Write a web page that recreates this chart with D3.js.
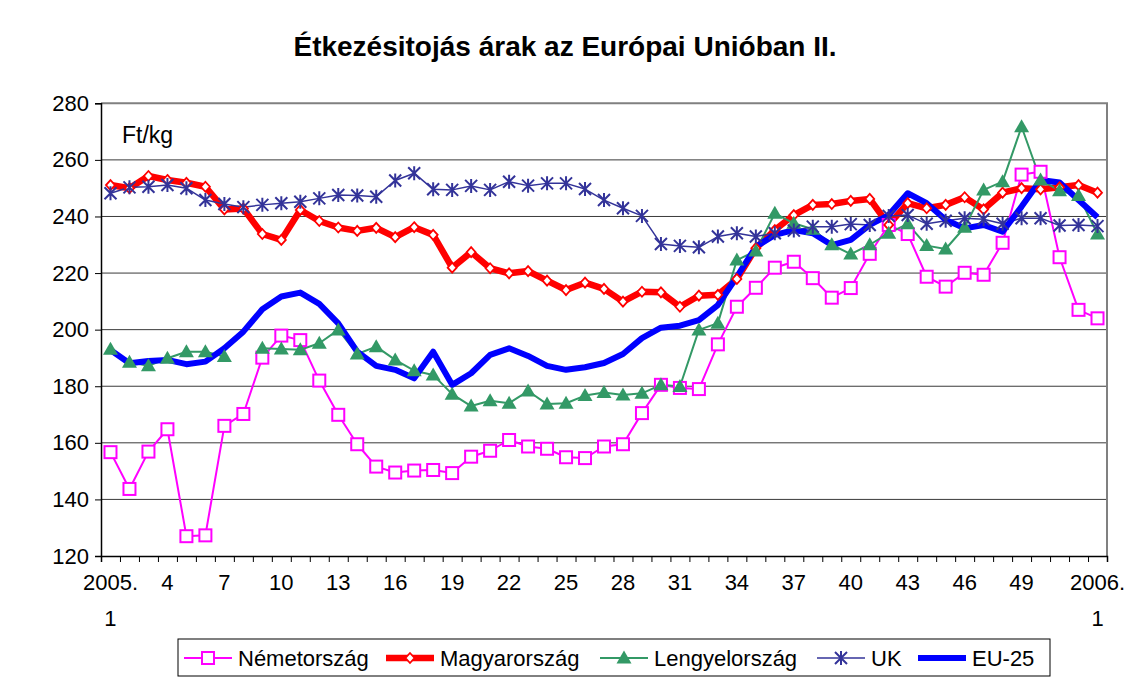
<!DOCTYPE html>
<html>
<head>
<meta charset="utf-8">
<title>Étkezésitojás árak</title>
<script src="https://cdn.jsdelivr.net/npm/d3@7"></script>
<style>
  body { margin: 0; background: #fff; }
  text { font-family: "Liberation Sans", Arial, sans-serif; }
</style>
</head>
<body>
<svg width="1125" height="681"></svg>
<script>
// hetek (kategóriák)
const weeks = ['2005.1','2','3','4','5','6','7','8','9','10','11','12','13','14','15','16','17','18','19','20',
  '21','22','23','24','25','26','27','28','29','30','31','32','33','34','35','36','37','38','39','40',
  '41','42','43','44','45','46','47','48','49','50','51','52','2006.1']
const tickIdx = [0,3,6,9,12,15,18,21,24,27,30,33,36,39,42,45,48,52]
const yTicks = [120,140,160,180,200,220,240,260,280]

const nemet = [156.7,143.7,156.9,164.8,127.0,127.3,166.0,170.2,190.1,197.9,
  196.3,182.0,169.9,159.5,151.6,149.5,150.2,150.4,149.3,155.1,
  157.2,161.0,158.7,157.9,154.9,154.6,158.7,159.5,170.5,180.5,
  179.4,179.0,194.8,208.1,214.8,221.9,224.0,218.2,211.3,214.7,
  226.8,237.0,233.8,218.7,215.2,220.1,219.4,230.7,254.8,255.8,
  225.6,207.0,204.0]
const magyar = [251.1,250.0,254.3,252.9,251.9,250.5,242.5,242.8,233.8,231.7,
  242.3,238.4,236.1,234.9,236.0,232.7,236.2,233.5,221.9,227.4,
  221.7,219.9,220.7,217.3,214.0,216.6,214.4,209.9,213.4,213.2,
  208.1,212.0,212.3,217.9,228.8,235.2,240.5,244.1,244.4,245.5,
  246.2,237.0,244.7,242.9,244.1,246.8,242.5,248.4,250.0,249.6,
  250.3,251.1,248.4]
const lengyel = [193.1,188.5,187.2,189.9,192.2,192.2,190.5,null,193.4,193.2,
  192.9,195.2,199.9,191.4,194.0,189.3,185.5,184.0,177.2,173.0,
  174.9,174.0,178.3,173.7,174.0,176.7,177.8,176.9,177.5,180.5,
  179.9,199.9,202.3,224.6,227.8,241.1,237.6,235.5,230.0,226.7,
  230.0,234.1,237.4,229.7,228.5,236.2,249.4,252.3,271.7,252.9,
  249.1,247.4,233.8]
const uk = [248.2,250.3,250.5,251.1,250.0,245.8,244.4,243.3,244.1,244.7,
  245.2,246.4,247.6,247.4,247.0,252.7,255.3,249.6,249.4,250.8,
  249.4,252.3,250.9,251.7,251.7,249.7,245.8,242.9,240.2,230.3,
  229.6,229.1,232.9,234.1,232.9,234.1,235.0,236.4,236.4,237.3,
  237.0,240.2,240.5,237.4,238.5,239.4,239.0,237.4,239.4,239.4,
  236.8,237.0,236.6]
const eu25 = [192.8,188.1,188.9,189.3,187.8,188.7,193.4,199.3,207.2,211.7,
  213.1,209.1,202.2,192.2,187.2,185.8,182.8,192.2,180.5,184.6,
  191.1,193.4,190.7,187.2,185.8,186.7,188.2,191.4,197.0,200.7,
  201.4,203.4,208.7,218.7,229.3,233.5,235.2,234.1,229.9,231.7,
  237.0,240.5,248.2,244.7,238.8,235.8,237.0,234.6,243.5,252.9,
  252.0,245.8,239.7]

const series = [
  { name: 'Németország', values: nemet, color: '#FF00FF', width: 2, marker: 'square' },
  { name: 'Magyarország', values: magyar, color: '#FF0000', width: 6.5, marker: 'diamond' },
  { name: 'Lengyelország', values: lengyel, color: '#339966', width: 2, marker: 'triangle' },
  { name: 'UK', values: uk, color: '#333399', width: 1.5, marker: 'star' },
  { name: 'EU-25', values: eu25, color: '#0000FF', width: 6, marker: null }
]

const svg = d3.select('svg')
const plot = { left: 101, right: 1107, top: 103.3, bottom: 556 }

const x = d3.scaleLinear([-0.5, weeks.length - 0.5], [plot.left, plot.right])
const y = d3.scaleLinear([120, 280], [plot.bottom, plot.top])

// cím
svg.append('text').attr('x', 565).attr('y', 56).attr('text-anchor', 'middle')
  .style('font-size', '28px').style('font-weight', 'bold').text('Étkezésitojás árak az Európai Unióban II.')

// rácsvonalak
svg.append('g').selectAll('line').data(yTicks.slice(1, -1)).join('line')
  .attr('x1', plot.left).attr('x2', plot.right)
  .attr('y1', d => y(d)).attr('y2', d => y(d))
  .attr('stroke', '#3a3a3a').attr('stroke-width', 1)

// keret felül és jobbra
svg.append('path')
  .attr('d', `M${plot.left},${plot.top}H${plot.right}V${plot.bottom}`)
  .attr('fill', 'none').attr('stroke', '#808080').attr('stroke-width', 2)

// y tengely
const yAxis = svg.append('g').attr('transform', `translate(${plot.left},0)`)
  .call(d3.axisLeft(y).tickValues(yTicks).tickSize(6).tickPadding(6))
yAxis.select('.domain').attr('stroke', '#000').attr('stroke-width', 1.5)
yAxis.selectAll('.tick line').attr('stroke', '#000')
yAxis.selectAll('.tick text').style('font-size', '22px').attr('fill', '#000')
  .style('font-family', '"Liberation Sans", Arial, sans-serif')

// x tengely
const xAxis = svg.append('g').attr('transform', `translate(0,${plot.bottom})`)
  .call(d3.axisBottom(x).tickValues(d3.range(-0.5, weeks.length, 1)).tickSize(6).tickFormat(''))
xAxis.select('.domain').attr('stroke', '#000').attr('stroke-width', 1.5)
xAxis.selectAll('.tick line').attr('stroke', '#000')

const xl = svg.append('g').selectAll('text').data(tickIdx).join('text')
  .attr('text-anchor', 'middle').style('font-size', '22px')
  .attr('transform', d => `translate(${x(d)},${plot.bottom + 34})`)
xl.each(function (d) {
  const parts = weeks[d].split('.')
  const t = d3.select(this)
  if (parts.length > 1) {
    t.append('tspan').attr('x', 0).attr('dy', 0).text(parts[0] + '.')
    t.append('tspan').attr('x', 0).attr('dy', 36).text(parts[1])
  } else {
    t.text(parts[0])
  }
})

svg.append('text').attr('x', 122).attr('y', 143).style('font-size', '23px').text('Ft/kg')

// jelölők
function drawMarker(g, type, color, cx, cy) {
  if (type === 'square') {
    g.append('rect').attr('x', cx - 6).attr('y', cy - 6).attr('width', 12).attr('height', 12)
      .attr('fill', '#fff').attr('stroke', color).attr('stroke-width', 2)
  } else if (type === 'diamond') {
    g.append('path').attr('d', `M${cx},${cy - 5}L${cx + 4.5},${cy}L${cx},${cy + 5}L${cx - 4.5},${cy}Z`)
      .attr('fill', '#fff').attr('stroke', color).attr('stroke-width', 1.8)
  } else if (type === 'triangle') {
    g.append('path').attr('d', `M${cx},${cy - 7.5}L${cx + 7.5},${cy + 5.5}L${cx - 7.5},${cy + 5.5}Z`)
      .attr('fill', color)
  } else if (type === 'star') {
    g.append('path')
      .attr('d', `M${cx},${cy - 7}V${cy + 7}M${cx - 6},${cy - 6}L${cx + 6},${cy + 6}M${cx - 6},${cy + 6}L${cx + 6},${cy - 6}`)
      .attr('stroke', color).attr('stroke-width', 2).attr('fill', 'none')
  }
}

const line = d3.line().defined(d => d != null).x((d, i) => x(i)).y(d => y(d))

const lines = svg.append('g')
series.forEach(s => {
  lines.append('path').datum(s.values).attr('d', line)
    .attr('fill', 'none').attr('stroke', s.color).attr('stroke-width', s.width)
    .attr('stroke-linejoin', 'round')
})
const marks = svg.append('g')
series.forEach(s => {
  if (!s.marker) return
  s.values.forEach((v, i) => { if (v != null) drawMarker(marks, s.marker, s.color, x(i), y(v)) })
})

// jelmagyarázat
const legend = svg.append('g')
legend.append('rect').attr('x', 178).attr('y', 639).attr('width', 872).attr('height', 37)
  .attr('fill', '#fff').attr('stroke', '#000').attr('stroke-width', 1)
const legX = [184, 386, 600, 817, 918]
series.forEach((s, i) => {
  const lx = legX[i], ly = 658
  legend.append('line').attr('x1', lx).attr('x2', lx + 48).attr('y1', ly).attr('y2', ly)
    .attr('stroke', s.color).attr('stroke-width', s.width)
  if (s.marker) drawMarker(legend, s.marker, s.color, lx + 24, ly)
  legend.append('text').attr('x', lx + 54).attr('y', ly + 8).style('font-size', '22px').text(s.name)
})
</script>
</body>
</html>
